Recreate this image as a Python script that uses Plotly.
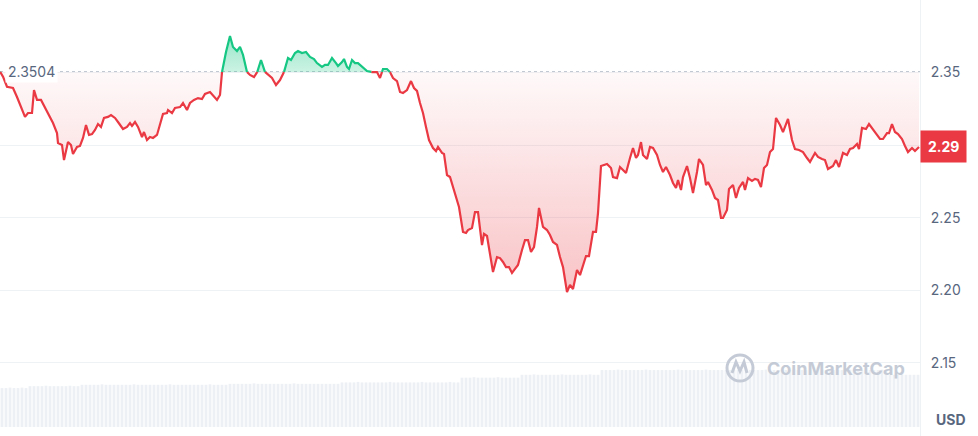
import plotly.graph_objects as go

# ---------------- data ----------------
time_pts = [0, 3, 7, 13, 17, 20, 25, 28, 32, 34, 37, 41, 45, 50, 53, 57, 58, 62, 64, 68,
            71, 73, 77, 80, 83, 86, 89, 92, 95, 98, 101, 104, 108, 111, 115, 118, 123, 127, 130, 132,
            135, 138, 142, 144, 147, 150, 153, 157, 160, 163, 167, 168, 172, 175, 180, 183, 187, 190, 194, 198,
            202, 205, 210, 213, 217, 220, 222, 226, 230, 233, 237, 240, 243, 247, 250, 254, 257, 261, 265, 268,
            272, 276, 280, 284, 288, 291, 295, 298, 302, 306, 310, 314, 317, 322, 325, 328, 332, 336, 338, 342,
            344, 347, 349, 352, 355, 358, 362, 367, 372, 377, 380, 383, 387, 390, 393, 397, 400, 403, 407, 411,
            414, 417, 420, 423, 426, 429, 433, 436, 438, 442, 444, 447, 450, 453, 457, 459, 463, 466, 468, 472,
            475, 478, 482, 484, 487, 490, 493, 497, 500, 503, 506, 509, 512, 515, 518, 522, 525, 528, 531, 534,
            537, 539, 543, 547, 550, 553, 557, 560, 563, 567, 570, 573, 577, 580, 583, 586, 589, 593, 596, 598,
            601, 604, 607, 611, 613, 617, 620, 623, 626, 630, 633, 636, 638, 641, 643, 647, 650, 653, 657, 660,
            663, 666, 670, 673, 676, 678, 681, 683, 687, 690, 693, 697, 699, 703, 706, 708, 712, 715, 718, 721,
            723, 727, 729, 733, 736, 739, 743, 745, 748, 752, 755, 758, 761, 764, 767, 770, 773, 776, 780, 783,
            788, 792, 795, 799, 803, 807, 810, 815, 818, 822, 825, 828, 833, 836, 839, 843, 847, 850, 853, 857,
            859, 862, 866, 869, 873, 877, 880, 883, 887, 889, 892, 895, 898, 902, 905, 908, 912, 915, 919]

price = [2.3506, 2.3471, 2.3402, 2.3393, 2.3331, 2.3276, 2.3194, 2.3221, 2.3221, 2.3379,
         2.3311, 2.3311, 2.3256, 2.3187, 2.3152, 2.3083, 2.3014, 2.3001, 2.2897, 2.3021,
         2.3001, 2.2939, 2.2987, 2.2994, 2.3049, 2.3138, 2.3070, 2.3076, 2.3104, 2.3145,
         2.3125, 2.3187, 2.3194, 2.3207, 2.3187, 2.3159, 2.3111, 2.3125, 2.3152, 2.3132,
         2.3159, 2.3125, 2.3056, 2.3090, 2.3035, 2.3056, 2.3049, 2.3070, 2.3152, 2.3214,
         2.3221, 2.3242, 2.3221, 2.3256, 2.3262, 2.3290, 2.3242, 2.3290, 2.3311, 2.3324,
         2.3317, 2.3352, 2.3366, 2.3345, 2.3311, 2.3345, 2.3503, 2.3641, 2.3751, 2.3676,
         2.3648, 2.3676, 2.3621, 2.3503, 2.3483, 2.3469, 2.3497, 2.3586, 2.3503, 2.3483,
         2.3462, 2.3414, 2.3448, 2.3503, 2.3600, 2.3586, 2.3634, 2.3648, 2.3634, 2.3641,
         2.3607, 2.3593, 2.3565, 2.3538, 2.3552, 2.3552, 2.3600, 2.3565, 2.3545, 2.3572,
         2.3593, 2.3538, 2.3524, 2.3586, 2.3565, 2.3565, 2.3538, 2.3510, 2.3503, 2.3503,
         2.3462, 2.3524, 2.3524, 2.3503, 2.3462, 2.3441, 2.3366, 2.3359, 2.3379, 2.3441,
         2.3393, 2.3373, 2.3290, 2.3221, 2.3125, 2.3035, 2.2980, 2.2959, 2.2987, 2.2946,
         2.2939, 2.2794, 2.2780, 2.2711, 2.2622, 2.2574, 2.2402, 2.2395, 2.2415, 2.2429,
         2.2539, 2.2539, 2.2312, 2.2388, 2.2374, 2.2257, 2.2126, 2.2229, 2.2222, 2.2195,
         2.2160, 2.2160, 2.2119, 2.2147, 2.2174, 2.2278, 2.2346, 2.2346, 2.2264, 2.2298,
         2.2436, 2.2567, 2.2436, 2.2415, 2.2381, 2.2333, 2.2312, 2.2229, 2.2160, 2.1988,
         2.2037, 2.2009, 2.2140, 2.2105, 2.2174, 2.2236, 2.2236, 2.2402, 2.2402, 2.2532,
         2.2856, 2.2863, 2.2870, 2.2842, 2.2780, 2.2773, 2.2849, 2.2829, 2.2808, 2.2911,
         2.2980, 2.2911, 2.2932, 2.3021, 2.2932, 2.2904, 2.2987, 2.2980, 2.2932, 2.2863,
         2.2815, 2.2849, 2.2794, 2.2739, 2.2705, 2.2760, 2.2691, 2.2780, 2.2856, 2.2773,
         2.2670, 2.2815, 2.2904, 2.2863, 2.2725, 2.2746, 2.2691, 2.2636, 2.2622, 2.2498,
         2.2498, 2.2553, 2.2698, 2.2725, 2.2636, 2.2705, 2.2746, 2.2691, 2.2773, 2.2753,
         2.2767, 2.2760, 2.2711, 2.2842, 2.2863, 2.2952, 2.2973, 2.3187, 2.3138, 2.3090,
         2.3180, 2.3035, 2.2973, 2.2966, 2.2952, 2.2911, 2.2884, 2.2946, 2.2918, 2.2904,
         2.2897, 2.2835, 2.2856, 2.2897, 2.2849, 2.2946, 2.2932, 2.2973, 2.2980, 2.3008,
         2.2973, 2.3118, 2.3111, 2.3145, 2.3111, 2.3070, 2.3042, 2.3042, 2.3083, 2.3083,
         2.3145, 2.3090, 2.3076, 2.3042, 2.2994, 2.2952, 2.2980, 2.2959, 2.2987]

base_price = 2.3504
base_label = "2.3504"
last_label = "2.29"

vol_time = list(range(2, 920, 4))
volume = [82, 82, 83, 82, 82, 83, 82, 86, 86, 86, 86, 87, 86, 86, 86, 86, 86, 87, 86, 86,
          89, 89, 89, 89, 89, 90, 89, 89, 89, 89, 89, 89, 89, 90, 89, 89, 89, 89, 89, 89,
          89, 89, 90, 89, 89, 89, 89, 89, 89, 89, 89, 89, 90, 89, 89, 89, 89, 91, 91, 91,
          91, 91, 91, 92, 91, 91, 91, 91, 91, 91, 91, 91, 91, 92, 91, 91, 91, 91, 91, 91,
          91, 91, 91, 91, 91, 94, 94, 94, 94, 95, 94, 94, 94, 94, 94, 94, 94, 95, 94, 94,
          94, 94, 94, 94, 94, 95, 94, 94, 94, 94, 94, 94, 95, 94, 94, 104, 104, 104, 105, 104,
          104, 104, 104, 104, 105, 104, 104, 104, 104, 104, 110, 110, 110, 111, 110, 110, 110, 110, 110, 110,
          111, 110, 110, 110, 110, 110, 110, 111, 110, 110, 120, 120, 120, 120, 121, 120, 120, 120, 120, 120,
          120, 121, 120, 120, 120, 120, 120, 120, 120, 121, 120, 120, 120, 120, 120, 120, 121, 120, 120, 120,
          120, 120, 120, 121, 120, 120, 120, 120, 120, 120, 120, 121, 120, 120, 120, 120, 120, 120, 121, 120,
          120, 120, 120, 120, 120, 121, 120, 120, 120, 120, 120, 120, 121, 120, 120, 120, 120, 120, 120, 120,
          121, 120, 110, 110, 110, 111, 110, 110, 110, 110]

tick_vals = [2.15, 2.20, 2.25, 2.30, 2.35]
tick_text = ["2.15", "2.20", "2.25", "", "2.35"]   # 2.30 is hidden behind the price badge

RED = "#ea3943"
GREEN = "#16c784"
GRID = "#eff2f5"
TEXT = "#58667e"
FONT = "Inter"

# ---------------- split at the baseline ----------------
xs, ys = [], []
for i, (tx, p) in enumerate(zip(time_pts, price)):
    if i:
        p0, t0 = price[i - 1], time_pts[i - 1]
        if (p0 - base_price) * (p - base_price) < 0:
            f = (base_price - p0) / (p - p0)
            xs.append(t0 + f * (tx - t0))
            ys.append(base_price)
    xs.append(tx)
    ys.append(p)

up = [max(v, base_price) for v in ys]
dn = [min(v, base_price) for v in ys]
green_line = [v if v >= base_price else None for v in ys]
red_line = [v if v <= base_price else None for v in ys]
basel = [base_price] * len(xs)

fig = go.Figure()

fig.add_trace(go.Bar(x=vol_time, y=volume, yaxis="y2", marker=dict(color="#edf0f4", line=dict(width=0)),
                     hoverinfo="skip", showlegend=False))

fig.add_trace(go.Scatter(x=xs, y=basel, mode="lines", line=dict(width=0), hoverinfo="skip", showlegend=False))
fig.add_trace(go.Scatter(x=xs, y=up, mode="lines", line=dict(width=0), fill="tonexty",
                         fillgradient=dict(type="vertical",
                                           colorscale=[[0, "rgba(22,199,132,0.22)"], [1, "rgba(22,199,132,0.45)"]],
                                           start=base_price, stop=2.376),
                         hoverinfo="skip", showlegend=False))
fig.add_trace(go.Scatter(x=xs, y=basel, mode="lines", line=dict(width=0), hoverinfo="skip", showlegend=False))
fig.add_trace(go.Scatter(x=xs, y=dn, mode="lines", line=dict(width=0), fill="tonexty",
                         fillgradient=dict(type="vertical",
                                           colorscale=[[0, "rgba(234,57,67,0.30)"], [1, "rgba(234,57,67,0.03)"]],
                                           start=2.20, stop=base_price),
                         hoverinfo="skip", showlegend=False))

fig.add_trace(go.Scatter(x=xs, y=red_line, mode="lines", line=dict(color=RED, width=2.2),
                         connectgaps=False, hoverinfo="skip", showlegend=False))
fig.add_trace(go.Scatter(x=xs, y=green_line, mode="lines", line=dict(color=GREEN, width=2.2),
                         connectgaps=False, hoverinfo="skip", showlegend=False))

W, H = 978, 436
PLOT_W = 920
Y_LO = 2.35 - (H - 72.5) / 1452
Y_HI = 2.35 + 72.5 / 1452


def yv(pixel_y):
    """price value at a pixel row (used only for decoration placement)"""
    return 2.35 - (pixel_y - 72.5) / 1452


fig.update_layout(
    width=W, height=H,
    margin=dict(l=0, r=W - PLOT_W, t=0, b=0),
    paper_bgcolor="white", plot_bgcolor="white",
    font=dict(family=FONT, color=TEXT, size=14),
    bargap=0.3,
    xaxis=dict(range=[0, PLOT_W], visible=False, fixedrange=True),
    yaxis=dict(range=[Y_LO, Y_HI], side="right", tickvals=tick_vals, ticktext=tick_text,
               showgrid=True, gridcolor=GRID, gridwidth=1, zeroline=False,
               showline=True, linecolor=GRID, linewidth=1, ticks="",
               tickfont=dict(family=FONT, size=14, color=TEXT), ticklabelstandoff=7),
    yaxis2=dict(range=[-9 * 900 / 427, 900], overlaying="y", visible=False),
    shapes=[
        dict(type="line", xref="x", yref="y", x0=0, x1=PLOT_W, y0=base_price, y1=base_price,
             line=dict(color="#9aa4b5", width=1, dash="dot"), layer="below"),
        dict(type="circle", xref="x", yref="y", x0=727, x1=753, y0=yv(381), y1=yv(355),
             line=dict(color="#c5cbd6", width=3)),
        dict(type="path", xref="x", yref="y",
             path="M 732,{a} L 736,{b} L 740,{c} L 744,{b} L 747,{a}".format(a=yv(373), b=yv(362), c=yv(371)),
             line=dict(color="#c5cbd6", width=3)),
    ],
    annotations=[
        dict(x=0, xref="paper", xanchor="left", xshift=5, y=base_price, yref="y", yanchor="middle",
             text=base_label, showarrow=False, bgcolor="white", borderpad=2,
             font=dict(family=FONT, size=14, color=TEXT)),
        dict(x=1, xref="paper", xanchor="left", y=price[-1], yref="y", yanchor="middle",
             text="<b>" + last_label + "</b>", showarrow=False, bgcolor=RED, borderpad=7,
             font=dict(family=FONT, size=14, color="white")),
        dict(x=1, xref="paper", xanchor="center", xshift=31, y=0, yref="paper", yanchor="middle", yshift=17,
             text="<b>USD</b>", showarrow=False, font=dict(family=FONT, size=14, color=TEXT)),
        dict(x=765, xref="x", xanchor="left", y=yv(368), yref="y", yanchor="middle",
             text="<b>CoinMarketCap</b>", showarrow=False, font=dict(family=FONT, size=18, color="#c5cbd6")),
    ],
)

fig.write_html("out.html", config={"displayModeBar": False, "staticPlot": True},
               post_script="document.body.style.margin='0';document.body.style.overflow='hidden';")
